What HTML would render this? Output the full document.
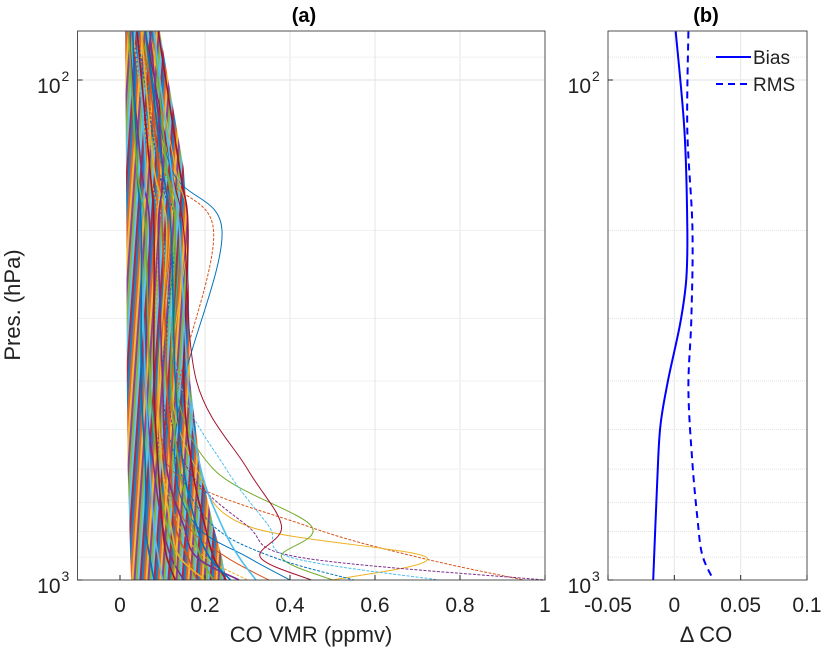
<!DOCTYPE html>
<html><head><meta charset="utf-8"><style>
body{margin:0;background:#fff;}
svg{display:block;font-family:"Liberation Sans",Arial,sans-serif;}
</style></head><body>
<svg id="chart" width="826" height="656" viewBox="0 0 826 656" xmlns="http://www.w3.org/2000/svg">
<defs>
<pattern id="stripes" patternUnits="userSpaceOnUse" width="14" height="40" patternTransform="skewX(-4)">
<rect x="0" y="0" width="2" height="40" fill="#0072BD"/>
<rect x="2" y="0" width="2" height="40" fill="#D95319"/>
<rect x="4" y="0" width="2" height="40" fill="#EDB120"/>
<rect x="6" y="0" width="2" height="40" fill="#7E2F8E"/>
<rect x="8" y="0" width="2" height="40" fill="#77AC30"/>
<rect x="10" y="0" width="2" height="40" fill="#4DBEEE"/>
<rect x="12" y="0" width="2" height="40" fill="#A2142F"/>
</pattern>
</defs>
<rect width="826" height="656" fill="#fff"/>
<g id="gridA"></g>
<g id="gridB"></g>
<g id="coreA"></g>
<g id="linesA"></g>
<g id="linesB"></g>
<g id="axes"></g>
<text x="304" y="22" font-size="20" font-weight="bold" text-anchor="middle">(a)</text>
<text x="706" y="22" font-size="20" font-weight="bold" text-anchor="middle">(b)</text>
<text x="311" y="642" font-size="22" text-anchor="middle" fill="#222">CO VMR (ppmv)</text>
<text x="706" y="642" font-size="22" text-anchor="middle" fill="#222">Δ CO</text>
<text transform="translate(20,305) rotate(-90)" font-size="22" text-anchor="middle" fill="#222">Pres. (hPa)</text>
<g>
<line x1="716" y1="57" x2="751" y2="57" stroke="#0000ff" stroke-width="2"/>
<text x="753" y="64" font-size="19" fill="#222">Bias</text>
<line x1="716" y1="84" x2="751" y2="84" stroke="#0000ff" stroke-width="2" stroke-dasharray="7,5"/>
<text x="753" y="91" font-size="19" fill="#222">RMS</text>
</g>
</svg>
<script>
const levels=[80,150,200,400,600,780,900,1000];
const coreMin=[0.012,0.014,0.015,0.016,0.018,0.022,0.024,0.026];
const coreMax=[0.094,0.15,0.16,0.165,0.19,0.22,0.24,0.25];
const profiles=[
[0.06,0.12,0.24,0.15,0.13,0.18,0.30,0.40],
[0.05,0.10,0.22,0.14,0.12,0.44,0.70,0.95],
[0.07,0.13,0.16,0.12,0.18,0.30,0.72,0.50],
[0.04,0.09,0.12,0.11,0.16,0.30,0.42,1.00],
[0.05,0.11,0.14,0.13,0.22,0.45,0.38,0.50],
[0.03,0.08,0.10,0.14,0.25,0.35,0.40,0.75],
[0.06,0.12,0.15,0.18,0.30,0.38,0.33,0.45],
[0.04,0.09,0.13,0.10,0.14,0.22,0.36,0.55],
[0.05,0.10,0.12,0.09,0.11,0.16,0.25,0.35],
[0.03,0.07,0.09,0.08,0.10,0.14,0.20,0.30],
[0.02,0.05,0.07,0.06,0.08,0.10,0.12,0.15],
[0.08,0.11,0.13,0.12,0.14,0.17,0.19,0.22],
[0.04,0.06,0.05,0.06,0.07,0.08,0.09,0.10],
[0.09,0.14,0.16,0.15,0.17,0.20,0.22,0.25],
[0.03,0.04,0.05,0.05,0.06,0.06,0.07,0.08],
[0.06,0.09,0.10,0.11,0.12,0.13,0.16,0.18],
[0.05,0.08,0.11,0.09,0.10,0.12,0.14,0.20],
[0.07,0.10,0.09,0.10,0.11,0.15,0.18,0.28],
[0.02,0.04,0.06,0.07,0.09,0.11,0.13,0.12],
[0.08,0.12,0.14,0.16,0.19,0.24,0.28,0.32],
[0.04,0.07,0.08,0.08,0.09,0.10,0.11,0.13],
[0.06,0.10,0.12,0.13,0.15,0.18,0.21,0.26]
];
const biasP=[80,126,197,250,306,402,494,637,1000];
const biasV=[0.001,0.0076,0.0098,0.009,0.0045,-0.005,-0.0106,-0.0129,-0.0159];
const rmsP=[80,126,197,297,415,583,752,890,1000];
const rmsV=[0.0106,0.0098,0.0136,0.0129,0.0106,0.0136,0.0174,0.021,0.0295];
const xTicksA=[0,0.2,0.4,0.6,0.8,1];
const xTickLabelsA=["0","0.2","0.4","0.6","0.8","1"];
const xTicksB=[-0.05,0,0.05,0.1];
const xTickLabelsB=["-0.05","0","0.05","0.1"];
const minorP=[90,200,300,400,500,600,700,800,900];

const NS="http://www.w3.org/2000/svg";
const TOP=31,BOT=580;
const yP=p=>80+(Math.log10(p)-2)*500;
const AL=77.5,AR=545,BL=608,BR=807;
const xA=v=>AL+(v+0.1)/1.1*(AR-AL);
const xB=v=>BL+(v+0.05)/0.15*(BR-BL);
const colors=["#0072BD","#D95319","#EDB120","#7E2F8E","#77AC30","#4DBEEE","#A2142F"];
function mk(tag,attrs,parent){const e=document.createElementNS(NS,tag);for(const k in attrs)e.setAttribute(k,attrs[k]);parent.appendChild(e);return e;}
function smooth(pts){ // catmull-rom to bezier
  let d='M'+pts[0][0].toFixed(1)+','+pts[0][1].toFixed(1);
  for(let i=0;i<pts.length-1;i++){
    const p0=pts[Math.max(0,i-1)],p1=pts[i],p2=pts[i+1],p3=pts[Math.min(pts.length-1,i+2)];
    const c1=[p1[0]+(p2[0]-p0[0])/6,p1[1]+(p2[1]-p0[1])/6],c2=[p2[0]-(p3[0]-p1[0])/6,p2[1]-(p3[1]-p1[1])/6];
    d+=' C'+c1[0].toFixed(1)+','+c1[1].toFixed(1)+' '+c2[0].toFixed(1)+','+c2[1].toFixed(1)+' '+p2[0].toFixed(1)+','+p2[1].toFixed(1);
  }
  return d;
}
function grid(g,L,R,xs,xf){
  for(const p of minorP.concat([100])){const y=yP(p);const l=mk('line',{x1:L,x2:R,y1:y,y2:y,stroke:'#e2e2e2','stroke-width':1,'stroke-dasharray':p===100?'':'1,1'},g);
  
  }
  for(const v of xs){const x=xf(v);const l=mk('line',{x1:x,x2:x,y1:TOP,y2:BOT,stroke:'#e6e6e6','stroke-width':1},g);
  
  }
}
grid(document.getElementById('gridA'),AL,AR,xTicksA.slice(1,5),xA);
grid(document.getElementById('gridB'),BL,BR,[0,0.05],xB);

const core=document.getElementById('coreA');
let pts=levels.map((p,i)=>xA(coreMin[i])+','+yP(p)).concat(levels.slice().reverse().map((p,j)=>{const i=levels.length-1-j;return xA(coreMax[i])+','+yP(p);}));
const band=mk('polygon',{points:pts.join(' '),fill:'url(#stripes)','fill-opacity':0.9},core);


const la=document.getElementById('linesA');
profiles.forEach((pr,k)=>{
  const d=smooth(pr.map((v,i)=>[xA(v),yP(levels[i])]));
  const e=mk('path',{d:d,fill:'none',stroke:colors[k%7],'stroke-width':k<10?1:1.6,'stroke-dasharray':k<10&&k%2?'3,1.5':''},la);
  
  
});
const lb=document.getElementById('linesB');
const b=mk('path',{d:smooth(biasV.map((v,i)=>[xB(v),yP(biasP[i])])),fill:'none',stroke:'#0000ff','stroke-width':2},lb);


const r=mk('path',{d:smooth(rmsV.map((v,i)=>[xB(v),yP(rmsP[i])])),fill:'none',stroke:'#0000ff','stroke-width':2,'stroke-dasharray':'7,5'},lb);



const ax=document.getElementById('axes');
function frame(L,R,xs,labels,xf,name){
  const f=mk('rect',{x:L,y:TOP,width:R-L,height:BOT-TOP,fill:'none',stroke:'#262626','stroke-width':0.8},ax);
  
  
  xs.forEach((v,i)=>{const x=xf(v);
    mk('line',{x1:x,x2:x,y1:BOT,y2:BOT-5,stroke:'#262626'},ax);
    const t=mk('text',{x:x,y:612,'font-size':21,'text-anchor':'middle',fill:'#222'},ax);t.textContent=labels[i];
    
    });
  [[100,'2'],[1000,'3']].forEach(([p,e])=>{const y=yP(p);
    mk('line',{x1:L,x2:L+5,y1:y,y2:y,stroke:'#262626'},ax);
    const t=mk('text',{x:L-17,y:y+13,'font-size':21,'text-anchor':'end',fill:'#222'},ax);t.textContent='10';
    
    
    const s=mk('text',{x:L-16,y:y+1,'font-size':14,fill:'#222'},ax);s.textContent=e;
    
    });
}
frame(AL,AR,xTicksA,xTickLabelsA,xA,'panel-a');
frame(BL,BR,xTicksB,xTickLabelsB,xB,'panel-b');
</script>
</body></html>
